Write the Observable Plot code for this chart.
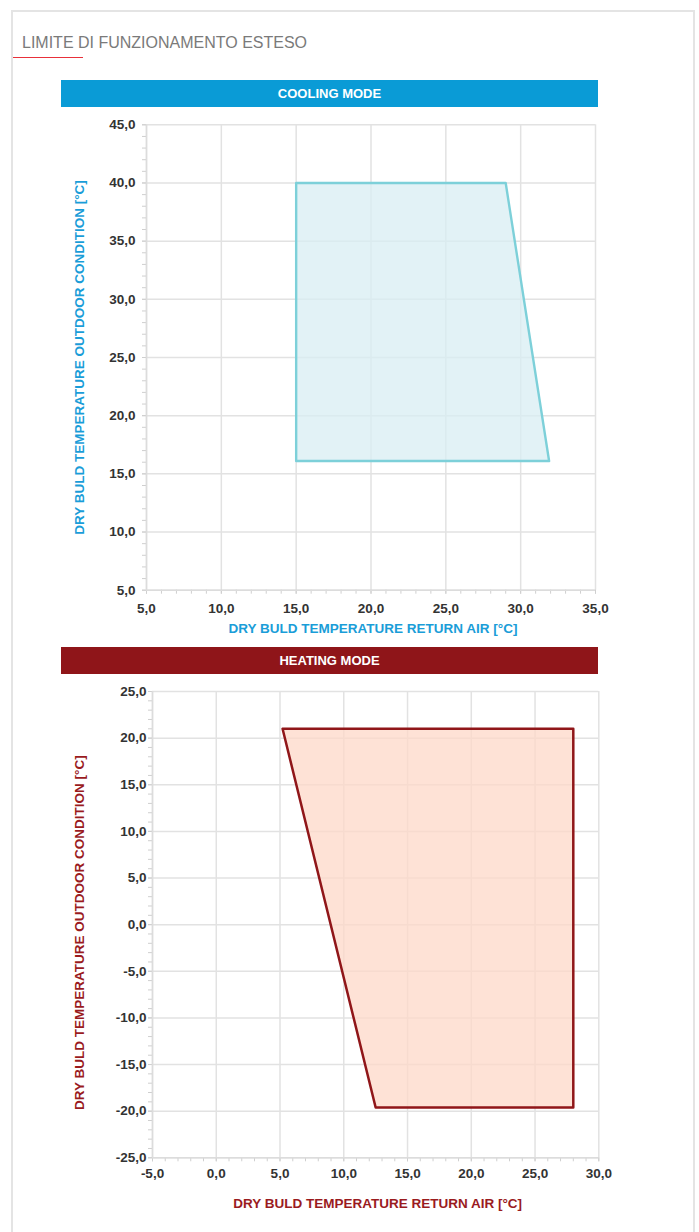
<!DOCTYPE html>
<html>
<head>
<meta charset="utf-8">
<script src="https://cdn.jsdelivr.net/npm/d3@7"></script>
<script src="https://cdn.jsdelivr.net/npm/@observablehq/plot@0.6"></script>
<style>
  html, body { margin: 0; padding: 0; background: #fff; width: 699px; height: 1232px; overflow: hidden; }
  body { position: relative; font-family: "Liberation Sans", Arial, Helvetica, sans-serif; }
  .frame { position: absolute; left: 11px; top: 10px; width: 680px; height: 1300px; border: 2px solid #e4e4e4; }
  .title { position: absolute; left: 22px; top: 34px; font-size: 16px; color: #7a7a7a; white-space: nowrap; }
  .uline { position: absolute; left: 13px; top: 57px; width: 70px; height: 0; border-top: 1.5px solid #e8303a; }
  .banner { position: absolute; left: 61px; width: 537px; height: 27px; color: #fff; font-weight: bold; font-size: 13px; text-align: center; line-height: 27px; }
  .chart { position: absolute; left: 0; }
</style>
</head>
<body>
<div class="frame"></div>
<div class="title">LIMITE DI FUNZIONAMENTO ESTESO</div>
<div class="uline"></div>
<div class="banner" style="top:80px;background:#0a9bd6;">COOLING MODE</div>
<div class="banner" style="top:647px;background:#8f1519;">HEATING MODE</div>
<div id="cool" class="chart" style="top:100px;"></div>
<div id="heat" class="chart" style="top:675px;"></div>
<script>
// ---- data ----
const coolX = [15, 29, 31.9, 15];
const coolY = [40, 40, 16.1, 16.1];
const coolXTicks = [5, 10, 15, 20, 25, 30, 35];
const coolYTicks = [5, 10, 15, 20, 25, 30, 35, 40, 45];

const heatX = [5.2, 28, 28, 12.5];
const heatY = [21, 21, -19.6, -19.6];
const heatXTicks = [-5, 0, 5, 10, 15, 20, 25, 30];
const heatYTicks = [-25, -20, -15, -10, -5, 0, 5, 10, 15, 20, 25];

const xLabel = "DRY BULD TEMPERATURE RETURN AIR [°C]";
const yLabel = "DRY BULD TEMPERATURE OUTDOOR CONDITION [°C]";

const fmt = d => d.toFixed(1).replace(".", ",");
const range1 = (a, b) => d3.range(a, b + 0.001, 1);

function makeChart(o) {
  const pts = o.xs.map((x, i) => ({x, y: o.ys[i]}));
  const [x0, x1] = [o.xTicks[0], o.xTicks[o.xTicks.length - 1]];
  const [y0, y1] = [o.yTicks[0], o.yTicks[o.yTicks.length - 1]];
  return Plot.plot({
    width: 699,
    height: o.height,
    marginLeft: o.ml, marginRight: o.mr, marginTop: o.mt, marginBottom: o.mb,
    style: {fontFamily: '"Liberation Sans", Arial, sans-serif', fontSize: "13.5px", fontWeight: "bold", color: "#333", background: "transparent", overflow: "visible"},
    x: {domain: [x0, x1]},
    y: {domain: [y0, y1]},
    marks: [
      Plot.gridX(o.xTicks, {stroke: "#e2e2e2", strokeOpacity: 1, strokeWidth: 1.5}),
      Plot.gridY(o.yTicks, {stroke: "#e2e2e2", strokeOpacity: 1, strokeWidth: 1.5}),
      Plot.line(pts, {x: "x", y: "y", curve: "linear-closed", fill: o.fill, fillOpacity: 0.75, stroke: o.stroke, strokeWidth: o.sw}),
      Plot.axisX(range1(x0, x1), {tickSize: 4, stroke: "#cfcfcf", tickFormat: () => "", label: null}),
      Plot.axisY(range1(y0, y1), {tickSize: 4, stroke: "#cfcfcf", tickFormat: () => "", label: null}),
      Plot.axisX(o.xTicks, {tickSize: 4, tickPadding: o.xpad, stroke: "#cfcfcf", fill: "#333", tickFormat: fmt, label: null}),
      Plot.axisY(o.yTicks, {tickSize: 4, tickPadding: o.ypad, stroke: "#cfcfcf", fill: "#333", tickFormat: fmt, label: null}),
      Plot.ruleX([x0], {stroke: "#dcdcdc", strokeWidth: 1.5}),
      Plot.ruleY([y0], {stroke: "#dcdcdc", strokeWidth: 1.5}),
      Plot.text([xLabel], {text: d => d, frameAnchor: "bottom", dy: o.xlabDy, dx: 2, fill: o.labColor, fontSize: 13.5, fontWeight: "bold"}),
      Plot.text([yLabel], {text: d => d, frameAnchor: "left", textAnchor: "middle", rotate: -90, dx: o.ylabDx, dy: o.ylabDy, fill: o.labColor, fontSize: 13.5, fontWeight: "bold"})
    ]
  });
}

document.getElementById("cool").append(makeChart({
  xs: coolX, ys: coolY, xTicks: coolXTicks, yTicks: coolYTicks,
  height: 545, ml: 146, mr: 104, mt: 24.3, mb: 55.3,
  fill: "#d8edf3", stroke: "#7dd0d9", sw: 2.4,
  xpad: 9, ypad: 7, xlabDy: 43, ylabDx: -67, ylabDy: 0, labColor: "#1a9dd8"
}));

document.getElementById("heat").append(makeChart({
  xs: heatX, ys: heatY, xTicks: heatXTicks, yTicks: heatYTicks,
  height: 550, ml: 152, mr: 100.7, mt: 16, mb: 67.7,
  fill: "#fdd8c8", stroke: "#901619", sw: 2.5,
  xpad: 7, ypad: 2, xlabDy: 50, ylabDx: -73, ylabDy: 8, labColor: "#9a1b1e"
}));
</script>
</body>
</html>
